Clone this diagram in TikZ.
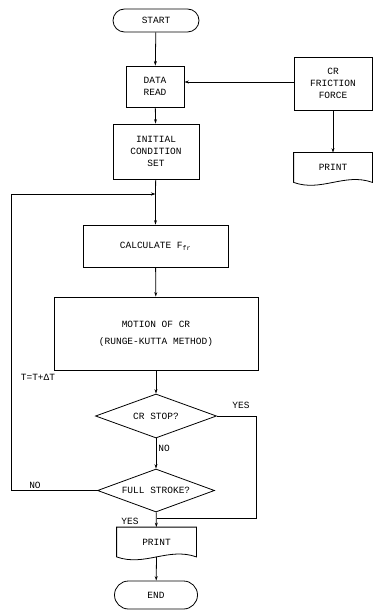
\documentclass[tikz,border=0pt]{standalone}
\usepackage{fontspec}
\setmonofont{Liberation Mono}
\usepackage{tikz}
\usetikzlibrary{calc,arrows.meta,shapes.geometric,shapes.misc}

% outline of a print (document) symbol around a node
\newcommand{\printoutline}[1]{%
    \draw (#1.north west) -- (#1.south west)
        .. controls ($(#1.south west)!0.35!(#1.south east)+(0,10)$)
        and ($(#1.south west)!0.65!(#1.south east)+(0,-10)$) .. (#1.south east)
        -- (#1.north east) -- cycle;}

\begin{document}
\begin{tikzpicture}[x=1pt, y=-1pt, >={Stealth[length=4.5pt,width=3pt]}, line width=0.8pt,
        font=\ttfamily\fontsize{9.5}{12}\selectfont,
        box/.style={draw, rectangle, align=center, inner sep=0pt},
        term/.style={draw, rounded rectangle, inner sep=0pt},
        decide/.style={draw, diamond, aspect=2.7, inner sep=0pt},
        doc/.style={rectangle, align=center, inner sep=0pt},
        lbl/.style={inner sep=1pt}]
        \useasboundingbox (0,0) rectangle (373,612);

        % Main column
        \node[term, minimum width=86, minimum height=23] (start) at (156,20.5) {START};
        \node[box, minimum width=58, minimum height=41] (read) at (155,86.5) {DATA\\READ};
        \node[box, minimum width=86, minimum height=55] (init) at (156,151.5) {INITIAL\\CONDITION\\SET};
        \node[box, minimum width=145, minimum height=42] (calc) at (155.5,246) {CALCULATE F\textsubscript{fr}};
        \node[box, minimum width=204, minimum height=73] (motion) at (156,333.5)
            {MOTION OF CR\\[5pt](RUNGE-KUTTA METHOD)};
        \node[decide, minimum width=121, minimum height=44] (stop) at (156,416) {CR STOP?};
        \node[decide, minimum width=117, minimum height=43] (full) at (156,490.5) {FULL STROKE?};
        \node[doc, minimum width=79, minimum height=29, text depth=-3pt] (print) at (156.5,542) {PRINT};
        \printoutline{print}
        \node[term, minimum width=83, minimum height=28] (end) at (156,595) {END};

        % Friction force input
        \node[box, minimum width=78, minimum height=53] (fric) at (333,83.5) {CR\\FRICTION\\FORCE};
        \node[doc, minimum width=78, minimum height=29, text depth=-2pt] (fprint) at (333,167.5) {PRINT};
        \printoutline{fprint}

        % Junctions and corners
        \coordinate (join) at (155.5,194);
        \coordinate (lft) at (11,194);
        \coordinate (rgt) at (256,416);
        \coordinate (merge) at (156.5,518);

        % Flow lines
        \draw[->] (start) -- (read);
        \draw[->] (read) -- (init);
        \draw[->] (fric.west |- 0,82) -- (read.east |- 0,82);
        \draw[->] (fric) -- (fprint);
        \draw (init) -- (join);
        \draw[->] (join) -- (calc);
        \draw[->] (calc) -- (motion);
        \draw[->] (motion) -- (stop);
        \draw[->] (stop) -- (full);
        \draw[->] (full) -- (print);
        \draw[->] (print.south) -- (end);

        % Loop back (NO)
        \draw[->] (full.west) -- (full.west -| lft) -- (lft) -- (join);
        % Exit (YES)
        \draw (stop.east) -- (rgt) -- (rgt |- merge) -- (merge);

        % Labels
        \node[lbl] (tinc) at (38,377) {T=T+ΔT};
        \node[lbl] (yes1) at (241,405) {YES};
        \node[lbl, anchor=west] (no1) at (157,448) {NO};
        \node[lbl] (no2) at (35,485) {NO};
        \node[lbl] (yes2) at (130,521) {YES};
    \end{tikzpicture}
\end{document}
